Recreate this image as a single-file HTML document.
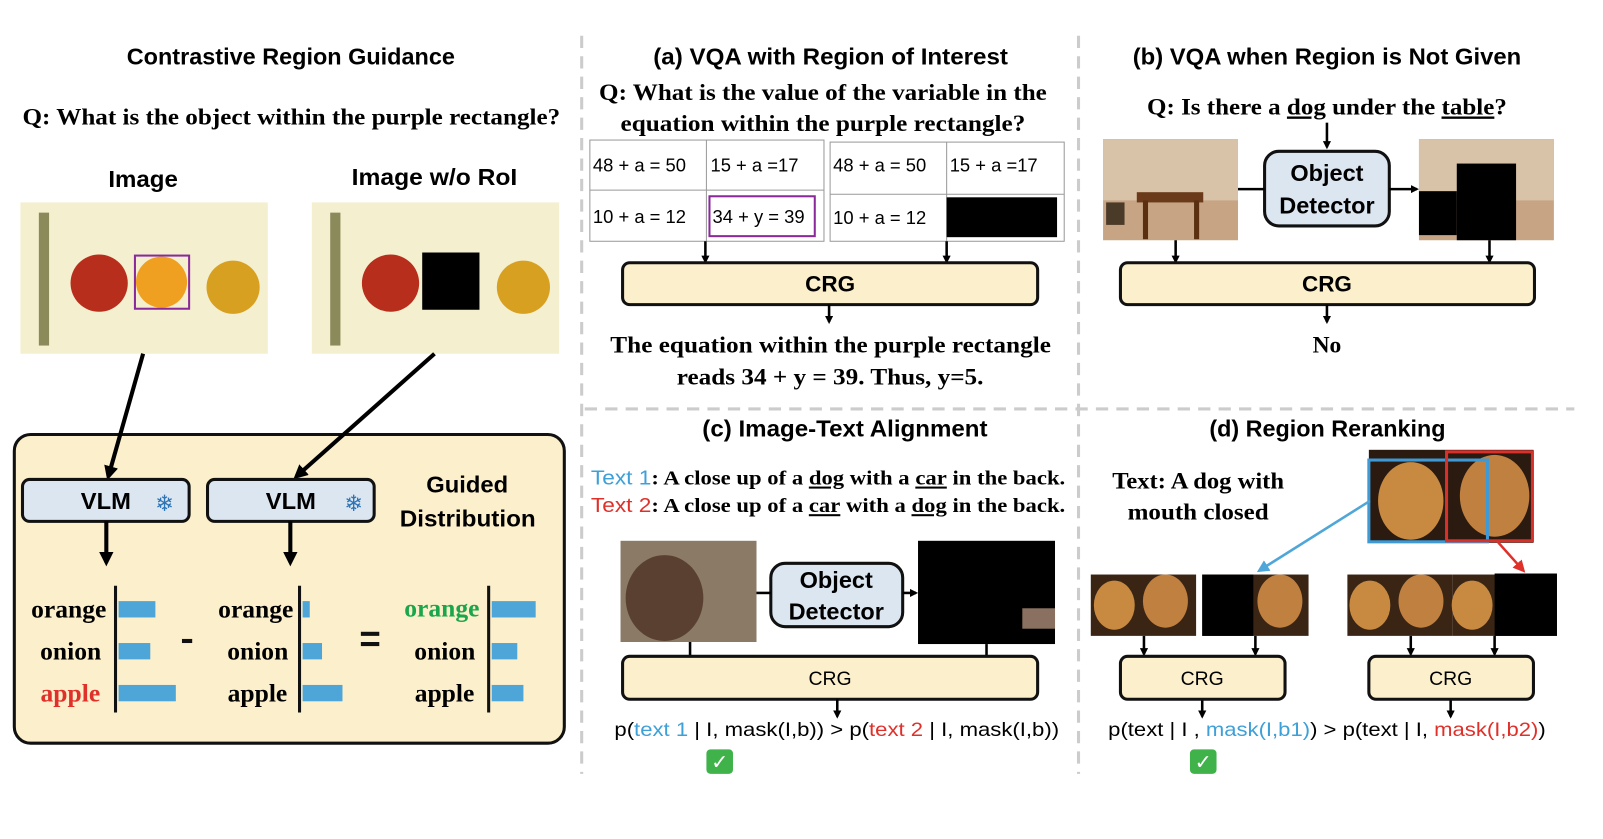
<!DOCTYPE html>
<html><head><meta charset="utf-8"><style>
html,body{margin:0;padding:0;background:#fff;width:1603px;height:839px;overflow:hidden}
svg{display:block}
.s{font-family:"Liberation Sans",sans-serif;font-weight:bold}
.r{font-family:"Liberation Serif",serif;font-weight:bold}
.t{font-family:"Liberation Sans",sans-serif}
</style></head><body>
<svg width="1603" height="839" viewBox="0 0 1603 839" xmlns="http://www.w3.org/2000/svg">
<defs>
<marker id="ah" markerWidth="8" markerHeight="8" refX="6" refY="4" orient="auto" markerUnits="userSpaceOnUse"><path d="M0,0 L8,4 L0,8 z" fill="#000"/></marker>
<marker id="ahb" markerWidth="14" markerHeight="14" refX="10" refY="7" orient="auto" markerUnits="userSpaceOnUse"><path d="M0,0 L14,7 L0,14 z" fill="#000"/></marker>
<marker id="abl" markerWidth="12" markerHeight="12" refX="9" refY="6" orient="auto" markerUnits="userSpaceOnUse"><path d="M0,0 L12,6 L0,12 z" fill="#4fa6d8"/></marker>
<marker id="ard" markerWidth="12" markerHeight="12" refX="9" refY="6" orient="auto" markerUnits="userSpaceOnUse"><path d="M0,0 L12,6 L0,12 z" fill="#e0302a"/></marker>
</defs>
<g transform="scale(1.0223)">
<!-- dashed separators -->
<g stroke="#ccc" stroke-width="3" stroke-dasharray="12,8">
<line x1="569" y1="35" x2="569" y2="757"/>
<line x1="1055" y1="35" x2="1055" y2="757"/>
<line x1="572" y1="400" x2="1540" y2="400"/>
</g>

<!-- LEFT PANEL -->
<text class="s" x="124" y="63" font-size="23" textLength="321" lengthAdjust="spacingAndGlyphs">Contrastive Region Guidance</text>
<text class="r" x="22" y="122" font-size="23" textLength="526" lengthAdjust="spacingAndGlyphs">Q: What is the object within the purple rectangle?</text>
<text class="s" x="106" y="183" font-size="23" textLength="68" lengthAdjust="spacingAndGlyphs">Image</text>
<text class="s" x="344" y="181" font-size="23" textLength="162" lengthAdjust="spacingAndGlyphs">Image w/o RoI</text>

<rect x="20" y="198" width="242" height="148" fill="#f4efcf"/>
<rect x="38" y="208" width="10" height="130" fill="#8a8a5a"/>
<circle cx="97" cy="277" r="28" fill="#b82e1c"/>
<circle cx="158" cy="276" r="25" fill="#f0a020"/>
<circle cx="228" cy="281" r="26" fill="#d8a020"/>
<rect x="132" y="250" width="53" height="52" fill="none" stroke="#8a2a9a" stroke-width="2"/>

<rect x="305" y="198" width="242" height="148" fill="#f4efcf"/>
<rect x="323" y="208" width="10" height="130" fill="#8a8a5a"/>
<circle cx="382" cy="277" r="28" fill="#b82e1c"/>
<rect x="413" y="247" width="56" height="56" fill="#000"/>
<circle cx="512" cy="281" r="26" fill="#d8a020"/>

<rect x="14" y="425" width="538" height="302" rx="16" fill="#fcefcb" stroke="#111" stroke-width="3"/>
<line x1="140" y1="346" x2="106" y2="466" stroke="#000" stroke-width="4" marker-end="url(#ahb)"/>
<line x1="425" y1="346" x2="290" y2="466" stroke="#000" stroke-width="4" marker-end="url(#ahb)"/>

<rect x="22" y="469" width="163" height="41" rx="7" fill="#dce6f1" stroke="#111" stroke-width="3"/>
<text class="s" x="79" y="498" font-size="23" textLength="49" lengthAdjust="spacingAndGlyphs">VLM</text>
<text x="161" y="500" font-size="22" fill="#2e75b6" text-anchor="middle" class="t">❄</text>
<rect x="203" y="469" width="163" height="41" rx="7" fill="#dce6f1" stroke="#111" stroke-width="3"/>
<text class="s" x="260" y="498" font-size="23" textLength="49" lengthAdjust="spacingAndGlyphs">VLM</text>
<text x="346" y="500" font-size="22" fill="#2e75b6" text-anchor="middle" class="t">❄</text>
<text class="s" x="417" y="482" font-size="23" textLength="80" lengthAdjust="spacingAndGlyphs">Guided</text>
<text class="s" x="391" y="515" font-size="23" textLength="133" lengthAdjust="spacingAndGlyphs">Distribution</text>

<line x1="104" y1="510" x2="104" y2="550" stroke="#000" stroke-width="4" marker-end="url(#ahb)"/>
<line x1="284" y1="510" x2="284" y2="550" stroke="#000" stroke-width="4" marker-end="url(#ahb)"/>

<g stroke="#111" stroke-width="3">
<line x1="113" y1="573" x2="113" y2="697"/>
<line x1="293" y1="573" x2="293" y2="697"/>
<line x1="478" y1="573" x2="478" y2="697"/>
</g>
<g fill="#4ea6d8">
<rect x="116" y="588" width="36" height="16"/><rect x="116" y="629" width="31" height="16"/><rect x="116" y="670" width="56" height="16"/>
<rect x="296" y="588" width="7" height="16"/><rect x="296" y="629" width="19" height="16"/><rect x="296" y="670" width="39" height="16"/>
<rect x="481" y="588" width="43" height="16"/><rect x="481" y="629" width="25" height="16"/><rect x="481" y="670" width="31" height="16"/>
</g>
<g class="r" font-size="25" text-anchor="end">
<text x="104" y="604">orange</text><text x="99" y="645">onion</text><text x="98" y="686" fill="#e0302a">apple</text>
<text x="287" y="604">orange</text><text x="282" y="645">onion</text><text x="281" y="686">apple</text>
<text x="469" y="603" fill="#1aa64a">orange</text><text x="465" y="645">onion</text><text x="464" y="686">apple</text>
</g>
<rect x="178" y="625" width="10" height="4" fill="#111"/>
<rect x="353" y="618" width="18" height="4" fill="#111"/><rect x="353" y="628" width="18" height="4" fill="#111"/>

<!-- (a) -->
<text class="s" x="639" y="63" font-size="23" textLength="347" lengthAdjust="spacingAndGlyphs">(a) VQA with Region of Interest</text>
<text class="r" x="586" y="98" font-size="23" textLength="438" lengthAdjust="spacingAndGlyphs">Q: What is the value of the variable in the</text>
<text class="r" x="607" y="128" font-size="23" textLength="396" lengthAdjust="spacingAndGlyphs">equation within the purple rectangle?</text>
<g fill="none" stroke="#999" stroke-width="1">
<rect x="577" y="137" width="229" height="99"/><line x1="691" y1="137" x2="691" y2="236"/><line x1="577" y1="186" x2="806" y2="186"/>
<rect x="812" y="139" width="229" height="97"/><line x1="926" y1="139" x2="926" y2="236"/><line x1="812" y1="190" x2="1041" y2="190"/>
</g>
<g class="t" font-size="18">
<text x="580" y="168">48 + a = 50</text><text x="695" y="168">15 + a =17</text>
<text x="580" y="218">10 + a = 12</text><text x="697" y="218">34 + y = 39</text>
<text x="815" y="168">48 + a = 50</text><text x="929" y="168">15 + a =17</text>
<text x="815" y="219">10 + a = 12</text>
</g>
<rect x="694" y="192" width="103" height="39" fill="none" stroke="#8a2a9a" stroke-width="2"/>
<rect x="926" y="193" width="108" height="39" fill="#000"/>
<line x1="690" y1="236" x2="690" y2="256" stroke="#000" stroke-width="2.5" marker-end="url(#ah)"/>
<line x1="926" y1="236" x2="926" y2="256" stroke="#000" stroke-width="2.5" marker-end="url(#ah)"/>
<rect x="609" y="257" width="406" height="41" rx="7" fill="#fcefcb" stroke="#111" stroke-width="3"/>
<text class="s" x="812" y="285" font-size="22" text-anchor="middle">CRG</text>
<line x1="811" y1="298" x2="811" y2="315" stroke="#000" stroke-width="2.5" marker-end="url(#ah)"/>
<text class="r" x="597" y="345" font-size="23" textLength="431" lengthAdjust="spacingAndGlyphs">The equation within the purple rectangle</text>
<text class="r" x="662" y="376" font-size="23" textLength="300" lengthAdjust="spacingAndGlyphs">reads 34 + y = 39. Thus, y=5.</text>

<!-- (b) -->
<text class="s" x="1108" y="63" font-size="23" textLength="380" lengthAdjust="spacingAndGlyphs">(b) VQA when Region is Not Given</text>
<text class="r" x="1122" y="112" font-size="23" textLength="352" lengthAdjust="spacingAndGlyphs">Q: Is there a <tspan text-decoration="underline">dog</tspan> under the <tspan text-decoration="underline">table</tspan>?</text>
<line x1="1298" y1="120" x2="1298" y2="144" stroke="#000" stroke-width="2.5" marker-end="url(#ah)"/>
<rect x="1079" y="136" width="132" height="99" fill="#c7a584"/>
<rect x="1079" y="136" width="132" height="60" fill="#d9c3a8"/>
<rect x="1112" y="188" width="65" height="10" fill="#6a3a1a"/>
<rect x="1118" y="196" width="5" height="38" fill="#5a3010"/><rect x="1168" y="196" width="5" height="38" fill="#5a3010"/>
<rect x="1082" y="198" width="18" height="22" fill="#4a3a28"/>
<rect x="1388" y="136" width="132" height="99" fill="#c7a584"/>
<rect x="1388" y="136" width="132" height="60" fill="#d9c3a8"/>
<rect x="1425" y="160" width="58" height="75" fill="#000"/>
<rect x="1388" y="187" width="37" height="43" fill="#000"/>
<rect x="1237" y="148" width="122" height="73" rx="14" fill="#dce6f1" stroke="#111" stroke-width="3"/>
<text class="s" x="1298" y="177" font-size="23" text-anchor="middle">Object</text>
<text class="s" x="1298" y="209" font-size="23" text-anchor="middle">Detector</text>
<line x1="1211" y1="185" x2="1237" y2="185" stroke="#000" stroke-width="2.5"/>
<line x1="1359" y1="185" x2="1386" y2="185" stroke="#000" stroke-width="2.5" marker-end="url(#ah)"/>
<line x1="1150" y1="235" x2="1150" y2="256" stroke="#000" stroke-width="2.5" marker-end="url(#ah)"/>
<line x1="1457" y1="235" x2="1457" y2="256" stroke="#000" stroke-width="2.5" marker-end="url(#ah)"/>
<rect x="1096" y="257" width="405" height="41" rx="7" fill="#fcefcb" stroke="#111" stroke-width="3"/>
<text class="s" x="1298" y="285" font-size="22" text-anchor="middle">CRG</text>
<line x1="1298" y1="298" x2="1298" y2="315" stroke="#000" stroke-width="2.5" marker-end="url(#ah)"/>
<text class="r" x="1298" y="345" font-size="23" text-anchor="middle">No</text>

<!-- (c) -->
<text class="s" x="687" y="427" font-size="23" textLength="279" lengthAdjust="spacingAndGlyphs">(c) Image-Text Alignment</text>
<text class="r" x="578" y="474" font-size="20" textLength="464" lengthAdjust="spacingAndGlyphs"><tspan class="t" fill="#3da0d8" font-weight="normal">Text 1</tspan>: A close up of a <tspan text-decoration="underline">dog</tspan> with a <tspan text-decoration="underline">car</tspan> in the back.</text>
<text class="r" x="578" y="501" font-size="20" textLength="464" lengthAdjust="spacingAndGlyphs"><tspan class="t" fill="#e0302a" font-weight="normal">Text 2</tspan>: A close up of a <tspan text-decoration="underline">car</tspan> with a <tspan text-decoration="underline">dog</tspan> in the back.</text>
<rect x="607" y="529" width="133" height="99" fill="#8a7a66"/>
<ellipse cx="650" cy="585" rx="38" ry="42" fill="#5a4030"/>
<rect x="898" y="529" width="134" height="101" fill="#000"/>
<rect x="1000" y="595" width="32" height="20" fill="#8a7060"/>
<rect x="754" y="551" width="129" height="62" rx="14" fill="#dce6f1" stroke="#111" stroke-width="3"/>
<text class="s" x="818" y="575" font-size="23" text-anchor="middle">Object</text>
<text class="s" x="818" y="606" font-size="23" text-anchor="middle">Detector</text>
<line x1="740" y1="580" x2="754" y2="580" stroke="#000" stroke-width="2.5"/>
<line x1="883" y1="580" x2="896" y2="580" stroke="#000" stroke-width="2.5" marker-end="url(#ah)"/>
<line x1="675" y1="628" x2="675" y2="642" stroke="#000" stroke-width="2.5"/>
<line x1="965" y1="630" x2="965" y2="642" stroke="#000" stroke-width="2.5"/>
<rect x="609" y="642" width="406" height="42" rx="7" fill="#fcefcb" stroke="#111" stroke-width="3"/>
<text class="t" x="812" y="670" font-size="19" text-anchor="middle">CRG</text>
<line x1="819" y1="684" x2="819" y2="701" stroke="#000" stroke-width="2.5" marker-end="url(#ah)"/>
<text class="t" x="601" y="720" font-size="19" textLength="435" lengthAdjust="spacingAndGlyphs">p(<tspan fill="#3da0d8">text 1</tspan> | I, mask(I,b))  &gt; p(<tspan fill="#e0302a">text 2</tspan> | I, mask(I,b))</text>
<rect x="691" y="733" width="26" height="24" rx="4" fill="#3fb34a"/>
<text x="704" y="752" font-size="20" fill="#fff" text-anchor="middle" class="t">✓</text>

<!-- (d) -->
<text class="s" x="1183" y="427" font-size="23" textLength="231" lengthAdjust="spacingAndGlyphs">(d) Region Reranking</text>
<text class="r" x="1088" y="478" font-size="23" textLength="168" lengthAdjust="spacingAndGlyphs">Text: A dog with</text>
<text class="r" x="1103" y="508" font-size="23" textLength="138" lengthAdjust="spacingAndGlyphs">mouth closed</text>
<rect x="1339" y="440" width="161" height="91" fill="#2a1a10"/>
<ellipse cx="1380" cy="490" rx="32" ry="38" fill="#c88a40"/>
<ellipse cx="1462" cy="485" rx="34" ry="40" fill="#c08040"/>
<rect x="1339" y="450" width="116" height="80" fill="none" stroke="#3d9ad6" stroke-width="3"/>
<rect x="1415" y="442" width="84" height="87" fill="none" stroke="#d8302a" stroke-width="3"/>
<line x1="1340" y1="490" x2="1232" y2="558" stroke="#4fa6d8" stroke-width="2.5" marker-end="url(#abl)"/>
<line x1="1465" y1="530" x2="1490" y2="558" stroke="#e0302a" stroke-width="2.5" marker-end="url(#ard)"/>
<g>
<rect x="1067" y="562" width="103" height="60" fill="#3a2414"/>
<ellipse cx="1090" cy="592" rx="20" ry="24" fill="#c88a40"/><ellipse cx="1140" cy="588" rx="22" ry="26" fill="#c08040"/>
<rect x="1176" y="562" width="104" height="60" fill="#3a2414"/>
<ellipse cx="1252" cy="588" rx="22" ry="26" fill="#c08040"/>
<rect x="1176" y="562" width="50" height="60" fill="#000"/>
<rect x="1318" y="562" width="103" height="60" fill="#3a2414"/>
<ellipse cx="1340" cy="592" rx="20" ry="24" fill="#c88a40"/><ellipse cx="1390" cy="588" rx="22" ry="26" fill="#c08040"/>
<rect x="1421" y="562" width="102" height="60" fill="#3a2414"/>
<ellipse cx="1440" cy="592" rx="20" ry="24" fill="#c88a40"/>
<rect x="1462" y="561" width="61" height="61" fill="#000"/>
</g>
<g stroke="#000" stroke-width="2.5">
<line x1="1119" y1="622" x2="1119" y2="640" marker-end="url(#ah)"/>
<line x1="1228" y1="622" x2="1228" y2="640" marker-end="url(#ah)"/>
<line x1="1380" y1="622" x2="1380" y2="640" marker-end="url(#ah)"/>
<line x1="1462" y1="622" x2="1462" y2="640" marker-end="url(#ah)"/>
<line x1="1176" y1="684" x2="1176" y2="701" marker-end="url(#ah)"/>
<line x1="1419" y1="684" x2="1419" y2="701" marker-end="url(#ah)"/>
</g>
<rect x="1096" y="642" width="161" height="42" rx="7" fill="#fcefcb" stroke="#111" stroke-width="3"/>
<text class="t" x="1176" y="670" font-size="19" text-anchor="middle">CRG</text>
<rect x="1339" y="642" width="161" height="42" rx="7" fill="#fcefcb" stroke="#111" stroke-width="3"/>
<text class="t" x="1419" y="670" font-size="19" text-anchor="middle">CRG</text>
<text class="t" x="1084" y="720" font-size="19" textLength="428" lengthAdjust="spacingAndGlyphs">p(text | I , <tspan fill="#3da0d8">mask(I,b1)</tspan>)  &gt; p(text | I, <tspan fill="#e0302a">mask(I,b2)</tspan>)</text>
<rect x="1164" y="733" width="26" height="24" rx="4" fill="#3fb34a"/>
<text x="1177" y="752" font-size="20" fill="#fff" text-anchor="middle" class="t">✓</text>
</g>
</svg>
</body></html>
